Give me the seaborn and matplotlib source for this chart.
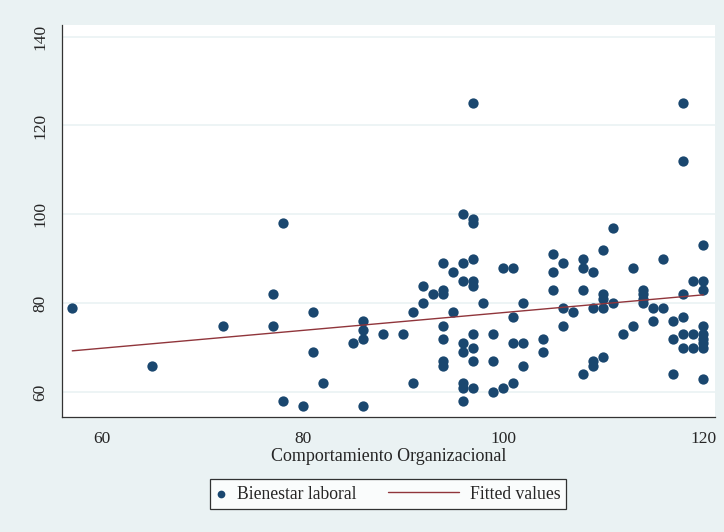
import numpy as np
import pandas as pd
import seaborn as sns
import matplotlib.pyplot as plt
from matplotlib.legend_handler import HandlerPathCollection, HandlerLine2D
from matplotlib.collections import PathCollection
from matplotlib.lines import Line2D

# Data
comportamiento = [57, 65, 72, 77, 77, 78, 78, 80, 81, 81, 82, 85, 86, 86, 86, 86,
                  88, 90, 91, 91, 92, 92, 93, 94, 94, 94, 94, 94, 94, 94, 95, 95,
                  96, 96, 96, 96, 96, 96, 96, 96,
                  97, 97, 97, 97, 97, 97, 97, 97, 97, 97,
                  98, 99, 99, 99, 100, 100, 101, 101, 101, 101, 102, 102, 102,
                  104, 104, 105, 105, 105, 106, 106, 106, 107, 108, 108, 108, 108,
                  109, 109, 109, 109, 110, 110, 110, 110, 110, 111, 111, 112, 113, 113,
                  114, 114, 114, 114, 115, 115, 116, 116, 117, 117, 117,
                  118, 118, 118, 118, 118, 118, 119, 119, 119,
                  120, 120, 120, 120, 120, 120, 120, 120, 120]
bienestar = [79, 66, 75, 82, 75, 98, 58, 57, 78, 69, 62, 71, 76, 74, 72, 57,
             73, 73, 78, 62, 84, 80, 82, 89, 83, 82, 75, 72, 67, 66, 87, 78,
             100, 89, 85, 71, 69, 62, 61, 58,
             125, 99, 98, 90, 85, 84, 73, 70, 67, 61,
             80, 73, 67, 60, 88, 61, 88, 77, 71, 62, 80, 71, 66,
             72, 69, 91, 87, 83, 89, 79, 75, 78, 90, 88, 83, 64,
             87, 79, 67, 66, 92, 82, 81, 79, 68, 97, 80, 73, 88, 75,
             83, 82, 81, 80, 79, 76, 90, 79, 76, 72, 64,
             125, 112, 82, 77, 73, 70, 85, 73, 70,
             93, 85, 83, 75, 73, 72, 71, 70, 63]

# fitted line as drawn in the chart (end points)
fitted_x = [57, 120]
fitted_y = [69.3, 81.9]

df = pd.DataFrame({"Comportamiento Organizacional": comportamiento,
                   "Bienestar laboral": bienestar})
fit = pd.DataFrame({"x": fitted_x, "y": fitted_y})

sns.set_style("white")
plt.rcParams['font.family'] = ['Liberation Serif', 'DejaVu Serif']

bg = "#eaf2f3"
navy = "#1a476f"
maroon = "#90353b"


class DotHandler(HandlerPathCollection):
    def get_xdata(self, legend, xdescent, ydescent, width, height, fontsize):
        x = [-xdescent + 0.5 * width]
        return x, x


class LongLineHandler(HandlerLine2D):
    # stretch the line handle to the left, like Stata's legend keys
    def get_xdata(self, legend, xdescent, ydescent, width, height, fontsize):
        xd = np.array([-xdescent - 3.4 * fontsize, -xdescent + width])
        return xd, xd


fig = plt.figure(figsize=(7.24, 5.32), dpi=100, facecolor=bg)
ax = fig.add_axes([0.086, 0.216, 0.902, 0.737])
ax.set_facecolor("white")

for yv in [60, 80, 100, 120, 140]:
    ax.axhline(yv, color=bg, lw=1.2, zorder=0)

sns.scatterplot(data=df, x="Comportamiento Organizacional", y="Bienestar laboral",
                color=navy, s=55, edgecolor=navy, linewidth=0,
                label="Bienestar laboral", ax=ax, zorder=3)
sns.lineplot(data=fit, x="x", y="y", color=maroon, lw=1.0,
             label="Fitted values", ax=ax, zorder=4)

ax.set_xlim(56, 121.2)
ax.set_ylim(54.4, 142.6)
ax.set_xticks([60, 80, 100, 120])
ax.set_yticks([60, 80, 100, 120, 140])
ax.set_ylabel("")
ax.set_xlabel("Comportamiento Organizacional", fontsize=13, labelpad=1)
ax.tick_params(axis="both", direction="out", length=6, width=0.8,
               color="#333333", labelsize=12.5, pad=4)
plt.setp(ax.get_yticklabels(), rotation=90, va="center")

for side in ["top", "right"]:
    ax.spines[side].set_visible(False)
for side in ["left", "bottom"]:
    ax.spines[side].set_color("#333333")
    ax.spines[side].set_linewidth(0.9)

handles, labels = ax.get_legend_handles_labels()
ax.legend_.remove()
leg = fig.legend(handles, labels, ncol=2, loc="center",
                 bbox_to_anchor=(0.536, 0.0714), frameon=True, fancybox=False,
                 edgecolor="black", facecolor="white", fontsize=12.7,
                 handlelength=0.6, handletextpad=0.6, columnspacing=5.2,
                 borderpad=0.35, markerscale=0.75,
                 handler_map={PathCollection: DotHandler(),
                              Line2D: LongLineHandler()})
leg.get_frame().set_linewidth(0.9)

fig.savefig("out.png", dpi=100, facecolor=bg)
